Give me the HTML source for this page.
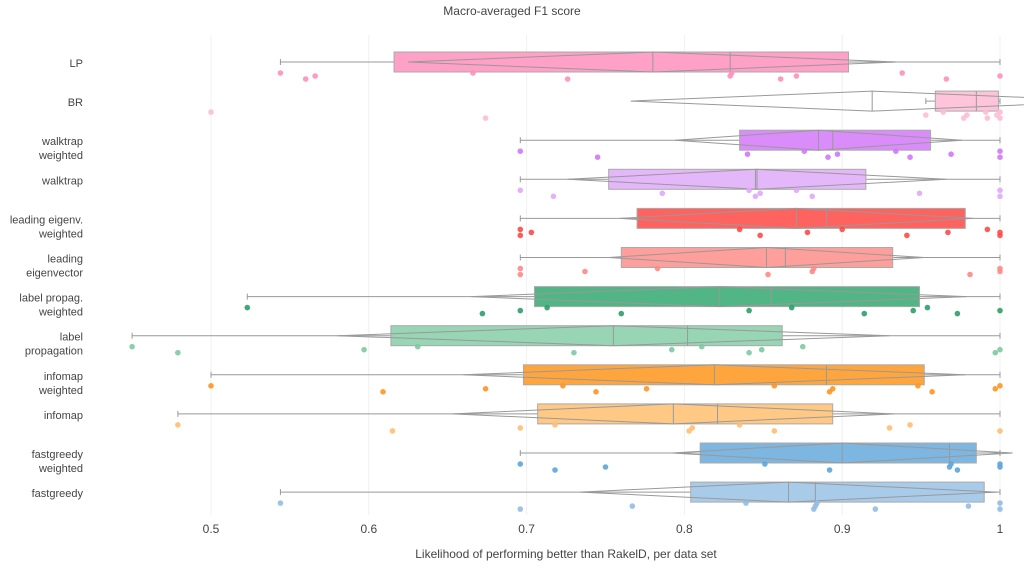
<!DOCTYPE html>
<html><head><meta charset="utf-8"><style>
body{margin:0;background:#fff;font-family:"Liberation Sans",sans-serif}
svg text{font-family:"Liberation Sans",sans-serif;fill:#444}
</style></head><body>
<svg id="c" width="1024" height="570"></svg>
<script>
const labels=[["LP"],["BR"],["walktrap","weighted"],["walktrap"],["leading eigenv.","weighted"],["leading","eigenvector"],["label propag.","weighted"],["label","propagation"],["infomap","weighted"],["infomap"],["fastgreedy","weighted"],["fastgreedy"]];
const boxFill=["#ffa0c6","#ffc4da","#d98cfa","#e4b7fa","#ff6360","#ff9f9c","#52b586","#97d5b5","#ffa53e","#ffc985","#7db6e0","#a9cbea"];
const ptColor=["#ff8fbd","#ffbdd5","#cf78f8","#dfa9f8","#ff4a47","#ff8a86","#2f9e6a","#7ec9a2","#ff9522","#ffbe72","#5fa4d8","#93bde3"];
const whiskLo=[0.544,0.953,0.696,0.696,0.696,0.696,0.523,0.45,0.5,0.479,0.696,0.544];
const q1=[0.616,0.959,0.835,0.752,0.770,0.760,0.705,0.614,0.698,0.707,0.810,0.804];
const med=[0.829,0.985,0.894,0.845,0.890,0.864,0.855,0.802,0.890,0.821,0.968,0.883];
const q3=[0.904,0.999,0.956,0.915,0.978,0.932,0.949,0.862,0.952,0.894,0.985,0.990];
const whiskHi=[1,1,1,1,1,1,1,1,1,1,1,1];
const means=[0.780,0.919,0.885,0.846,0.871,0.852,0.822,0.755,0.819,0.793,0.900,0.866];
const sds=[0.155,0.153,0.091,0.12,0.112,0.1,0.157,0.175,0.159,0.14,0.108,0.132];
const pts=[
[0.544,0.560,0.566,0.666,0.726,0.829,0.830,0.861,0.871,0.938,0.966,1.0],
[0.5,0.674,0.953,0.964,0.977,0.979,0.991,0.992,0.998,1.0,1.0],
[0.696,0.745,0.840,0.876,0.891,0.897,0.934,0.943,0.969,1.0,1.0],
[0.696,0.717,0.786,0.841,0.845,0.848,0.871,0.881,0.949,1.0,1.0],
[0.696,0.696,0.703,0.835,0.848,0.878,0.900,0.941,0.967,0.992,1.0,1.0],
[0.696,0.696,0.737,0.783,0.853,0.881,0.882,0.981,1.0,1.0],
[0.523,0.672,0.696,0.713,0.760,0.841,0.868,0.914,0.945,0.954,0.973,1.0],
[0.450,0.479,0.597,0.631,0.730,0.792,0.811,0.841,0.849,0.875,0.997,1.0],
[0.5,0.609,0.674,0.723,0.744,0.776,0.857,0.892,0.894,0.948,0.957,0.997,1.0],
[0.479,0.615,0.696,0.718,0.803,0.805,0.835,0.857,0.930,0.943,1.0],
[0.696,0.718,0.750,0.851,0.892,0.968,0.969,0.973,1.0,1.0],
[0.544,0.696,0.767,0.839,0.882,0.883,0.884,0.921,0.980,1.0,1.0]];
const xTicks=[0.5,0.6,0.7,0.8,0.9,1];
const NS="http://www.w3.org/2000/svg",svg=document.getElementById("c");
const X=v=>211+(v-0.5)*1578;
const Y=i=>62+i*39.1;
function mk(t,a,p){const e=document.createElementNS(NS,t);for(const k in a)e.setAttribute(k,a[k]);(p||svg).appendChild(e);return e;}
const clip=mk("clipPath",{id:"pc"});mk("rect",{x:100,y:30,width:924,height:490},clip);
xTicks.forEach(t=>{
 const g=mk("line",{x1:X(t),x2:X(t),y1:35,y2:515,stroke:"#f0f0f0","stroke-width":1});
 
 
 const tx=mk("text",{x:X(t),y:533,"text-anchor":"middle","font-size":12});tx.textContent=String(t);
 
 
});
const plot=mk("g",{"clip-path":"url(#pc)"});


labels.forEach((lb,i)=>{
 const cy=Y(i),h=10;
 const g=mk("g",{},plot);
 
 
 const st={stroke:"#999","stroke-width":1,fill:"none"};
 mk("line",Object.assign({x1:X(whiskLo[i]),x2:X(q1[i]),y1:cy,y2:cy},st),g);
 mk("line",Object.assign({x1:X(q3[i]),x2:X(whiskHi[i]),y1:cy,y2:cy},st),g);
 mk("line",Object.assign({x1:X(whiskLo[i]),x2:X(whiskLo[i]),y1:cy-3,y2:cy+3},st),g);
 mk("line",Object.assign({x1:X(whiskHi[i]),x2:X(whiskHi[i]),y1:cy-3,y2:cy+3},st),g);
 mk("rect",{x:X(q1[i]),y:cy-h,width:X(q3[i])-X(q1[i]),height:2*h,fill:boxFill[i],stroke:"#aaa","stroke-width":1},g);
 mk("line",{x1:X(med[i]),x2:X(med[i]),y1:cy-h,y2:cy+h,stroke:"#999","stroke-width":1},g);
 const m=X(means[i]),a=X(means[i]-sds[i]),b=X(means[i]+sds[i]);
 mk("polygon",{points:`${a},${cy} ${m},${cy-h} ${b},${cy} ${m},${cy+h}`,fill:"none",stroke:"#999","stroke-width":1},g);
 mk("line",{x1:m,x2:m,y1:cy-h,y2:cy+h,stroke:"#999","stroke-width":1},g);
 pts[i].forEach((v,j)=>{
  const c=mk("circle",{cx:X(v),cy:cy+14+((j*5)%3-1)*3,r:2.8,fill:ptColor[i],opacity:0.9},plot);
  
  
 });
 const t=mk("text",{x:83,y:cy+5,"text-anchor":"end","font-size":11});
 
 
 lb.forEach((s,k)=>{const ts=mk("tspan",{x:83,dy:k?14:0},t);ts.textContent=s;});
});
const ti=mk("text",{x:512,y:15,"text-anchor":"middle","font-size":12});ti.textContent="Macro-averaged F1 score";


const xt=mk("text",{x:566,y:558,"text-anchor":"middle","font-size":12});xt.textContent="Likelihood of performing better than RakelD, per data set";


</script>
</body></html>
